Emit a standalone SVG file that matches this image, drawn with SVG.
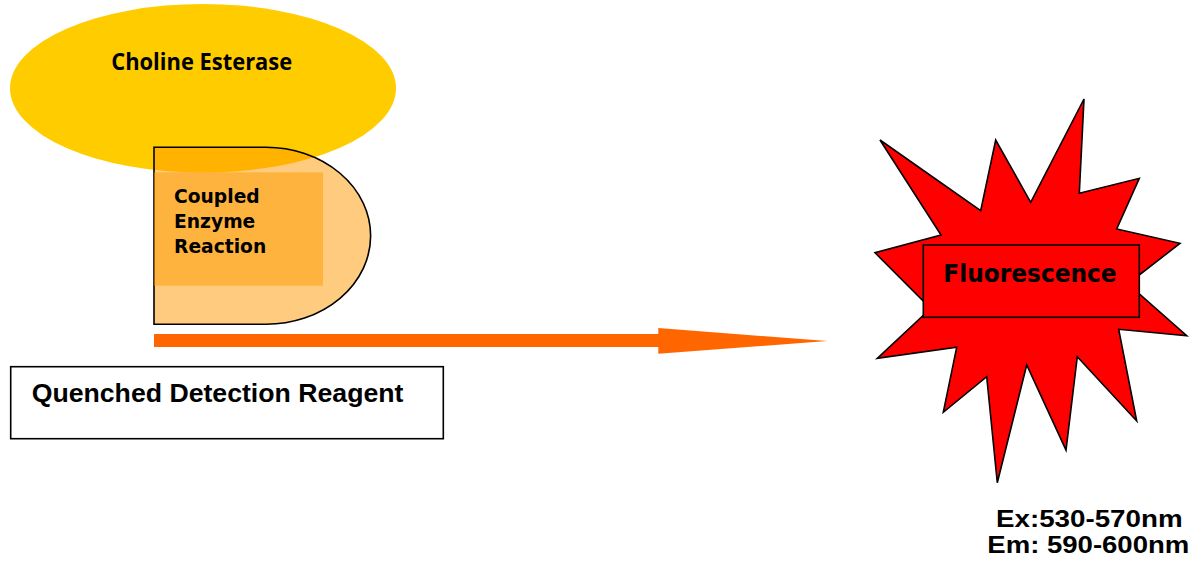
<svg xmlns="http://www.w3.org/2000/svg" width="1198" height="569" viewBox="0 0 1198 569">
<style>
.lbl{font-family:"DejaVu Sans","Liberation Sans",sans-serif;font-weight:bold;fill:#000}
.cal{font-family:"Open Sans","Noto Sans","Liberation Sans",sans-serif;font-weight:bold;fill:#000}
.ari{font-family:"Liberation Sans",Arial,sans-serif;font-weight:bold;fill:#000}
.outline{stroke:#000;stroke-width:1.6}
</style>
<rect width="1198" height="569" fill="#fff"/>
<g id="choline-esterase">
<ellipse cx="203" cy="88.3" rx="193" ry="84.3" fill="#FFCC00"/>
<text class="cal" x="201.7" y="70" font-size="22.5" text-anchor="middle" textLength="181" lengthAdjust="spacingAndGlyphs">Choline Esterase</text>
</g>
<g id="coupled-enzyme-reaction">
<path class="outline" d="M154,147.3 H266 A104.7,88.5 0 0 1 266,324.3 H154 Z" fill="#FF9900" fill-opacity="0.5"/>
<rect x="154" y="172.3" width="169" height="113.4" fill="#FF9900" fill-opacity="0.5"/>
<text class="lbl" font-size="18.7"><tspan x="174" y="202.7">Coupled</tspan><tspan x="174" y="228">Enzyme</tspan><tspan x="174" y="253.3">Reaction</tspan></text>
</g>
<g id="connectors">
<path d="M154,334 H658.3 V328 L827.3,341 L658.3,353.7 V347 H154 Z" fill="#FF6600"/>
</g>
<g id="quenched-detection-reagent">
<rect class="outline" x="10.7" y="366.7" width="432.6" height="72" fill="#fff"/>
<text class="ari" x="31.7" y="401.7" font-size="25" textLength="371.7" lengthAdjust="spacingAndGlyphs">Quenched Detection Reagent</text>
</g>
<g id="fluorescence">
<polygon class="outline" fill="#FF0000" stroke-linejoin="miter" points="880,140 980.7,210.7 995.7,140 1030.7,202.3 1084,99 1079.3,193.3 1139.3,178.3 1116.7,229 1180,243.3 1127.9,283.9 1186.7,335.7 1118.7,329.3 1136.7,421 1077.3,356.7 1066,450 1026.7,365 997.3,482.7 986.7,376.7 943.3,412.3 956.7,347.3 877.3,358.3 930.6,308.5 875,252.7 941,235"/>
<rect class="outline" x="923.3" y="245" width="216" height="72.3" fill="#FF0000"/>
<text class="lbl" x="1030" y="281.7" font-size="25" text-anchor="middle" textLength="173.3" lengthAdjust="spacingAndGlyphs">Fluorescence</text>
</g>
<g id="wavelengths">
<text class="ari" x="1089.3" y="526.7" font-size="23.5" text-anchor="middle" textLength="186.7" lengthAdjust="spacingAndGlyphs">Ex:530-570nm</text>
<text class="ari" x="1088.3" y="553.3" font-size="23.5" text-anchor="middle" textLength="202" lengthAdjust="spacingAndGlyphs">Em: 590-600nm</text>
</g>
</svg>
